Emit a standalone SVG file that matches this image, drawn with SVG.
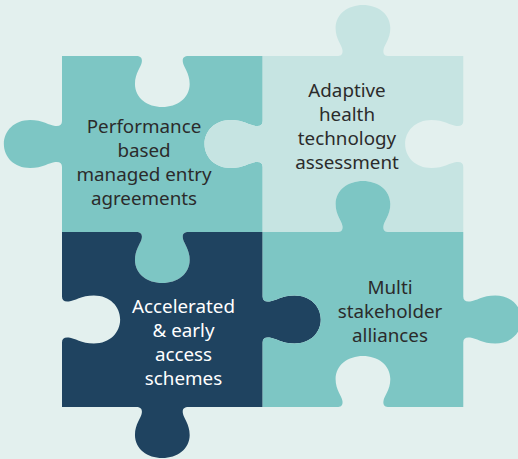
<svg xmlns="http://www.w3.org/2000/svg" width="518" height="459" viewBox="0 0 518 459">
  <style>
    .bg { fill: #E3F0EE; }
    .teal { fill: #7DC6C4; }
    .light { fill: #C6E4E2; }
    .navy { fill: #1F4360; }
    .lbl { font-family: "Noto Sans", "Open Sans", sans-serif; font-size: 18.8px; text-anchor: middle; fill: #2B2B2B; }
    .lbl.inv { fill: #FFFFFF; }
  </style>
  <rect class="bg" x="0" y="0" width="518" height="459"/>
  <g id="connectors"></g>
  <g id="piece-performance">
    <path class="teal" transform="translate(62,0) scale(1.14,1)" d="M0,56 H65 c4,0 5.5,2 5,6 c-0.5,5 -6,11 -6,22 c0,14 11,23 24,23 c13,0 24,-9 24,-23 c0,-11 -5.5,-17 -6,-22 c-0.5,-4 1,-6 5,-6 H176 V121 c0,4 -2,5.5 -6,5 c-5,-0.5 -11,-6 -22,-6 c-14,0 -23,11 -23,24 c0,13 9,24 23,24 c11,0 17,-5.5 22,-6 c4,-0.5 6,1 6,5 V232 H111 c-4,0 -5.5,2 -5,6 c0.5,5 6,11 6,22 c0,14 -11,23 -24,23 c-13,0 -24,-9 -24,-23 c0,-11 5.5,-17 6,-22 c0.5,-4 -1,-6 -5,-6 H0 V167 c0,-4 -2,-5.5 -6,-5 c-5,0.5 -11,6 -22,6 c-14,0 -23,-11 -23,-24 c0,-13 9,-24 23,-24 c11,0 17,5.5 22,6 c4,0.5 6,-1 6,-5 Z"/>
    <text class="lbl" x="144" y="132.7">Performance</text>
    <text class="lbl" x="144" y="156.7">based</text>
    <text class="lbl" x="144" y="180.7">managed entry</text>
    <text class="lbl" x="144" y="204.7">agreements</text>
  </g>
  <g id="piece-adaptive">
    <path class="light" transform="translate(62,0) scale(1.14,1)" d="M176,56 H241 c4,0 5.5,-2 5,-6 c-0.5,-5 -6,-11 -6,-22 c0,-14 11,-23 24,-23 c13,0 24,9 24,23 c0,11 -5.5,17 -6,22 c-0.5,4 1,6 5,6 H352 V121 c0,4 -2,5.5 -6,5 c-5,-0.5 -11,-6 -22,-6 c-14,0 -23,11 -23,24 c0,13 9,24 23,24 c11,0 17,-5.5 22,-6 c4,-0.5 6,1 6,5 V232 H287 c-4,0 -5.5,-2 -5,-6 c0.5,-5 6,-11 6,-22 c0,-14 -11,-23 -24,-23 c-13,0 -24,9 -24,23 c0,11 5.5,17 6,22 c0.5,4 -1,6 -5,6 H176 V167 c0,-4 -2,-5.5 -6,-5 c-5,0.5 -11,6 -22,6 c-14,0 -23,-11 -23,-24 c0,-13 9,-24 23,-24 c11,0 17,5.5 22,6 c4,0.5 6,-1 6,-5 Z"/>
    <text class="lbl" x="347" y="97">Adaptive</text>
    <text class="lbl" x="347" y="121">health</text>
    <text class="lbl" x="347" y="145">technology</text>
    <text class="lbl" x="347" y="169">assessment</text>
  </g>
  <g id="piece-accelerated">
    <path class="navy" transform="translate(62,0) scale(1.14,1)" d="M0,232 H65 c4,0 5.5,2 5,6 c-0.5,5 -6,11 -6,22 c0,14 11,23 24,23 c13,0 24,-9 24,-23 c0,-11 -5.5,-17 -6,-22 c-0.5,-4 1,-6 5,-6 H176 V296.5 c0,4 2,5.5 6,5 c5,-0.5 11,-6 22,-6 c14,0 23,11 23,24 c0,13 -9,24 -23,24 c-11,0 -17,-5.5 -22,-6 c-4,-0.5 -6,1 -6,5 V407 H111 c-4,0 -5.5,2 -5,6 c0.5,5 6,11 6,22 c0,14 -11,23 -24,23 c-13,0 -24,-9 -24,-23 c0,-11 5.5,-17 6,-22 c0.5,-4 -1,-6 -5,-6 H0 V342.5 c0,-4 2,-5.5 6,-5 c5,0.5 11,6 22,6 c14,0 23,-11 23,-24 c0,-13 -9,-24 -23,-24 c-11,0 -17,5.5 -22,6 c-4,0.5 -6,-1 -6,-5 Z"/>
    <text class="lbl inv" x="183.5" y="312.5">Accelerated</text>
    <text class="lbl inv" x="183.5" y="336.5">&amp; early</text>
    <text class="lbl inv" x="183.5" y="360.5">access</text>
    <text class="lbl inv" x="183.5" y="384.5">schemes</text>
  </g>
  <g id="piece-multi">
    <path class="teal" transform="translate(62,0) scale(1.14,1)" d="M176,232 H241 c4,0 5.5,-2 5,-6 c-0.5,-5 -6,-11 -6,-22 c0,-14 11,-23 24,-23 c13,0 24,9 24,23 c0,11 -5.5,17 -6,22 c-0.5,4 1,6 5,6 H352 V296.5 c0,4 2,5.5 6,5 c5,-0.5 11,-6 22,-6 c14,0 23,11 23,24 c0,13 -9,24 -23,24 c-11,0 -17,-5.5 -22,-6 c-4,-0.5 -6,1 -6,5 V407 H287 c-4,0 -5.5,-2 -5,-6 c0.5,-5 6,-11 6,-22 c0,-14 -11,-23 -24,-23 c-13,0 -24,9 -24,23 c0,11 5.5,17 6,22 c0.5,4 -1,6 -5,6 H176 V342.5 c0,-4 2,-5.5 6,-5 c5,0.5 11,6 22,6 c14,0 23,-11 23,-24 c0,-13 -9,-24 -23,-24 c-11,0 -17,5.5 -22,6 c-4,0.5 -6,-1 -6,-5 Z"/>
    <text class="lbl" x="390" y="294">Multi</text>
    <text class="lbl" x="390" y="318">stakeholder</text>
    <text class="lbl" x="390" y="342">alliances</text>
  </g>
</svg>
